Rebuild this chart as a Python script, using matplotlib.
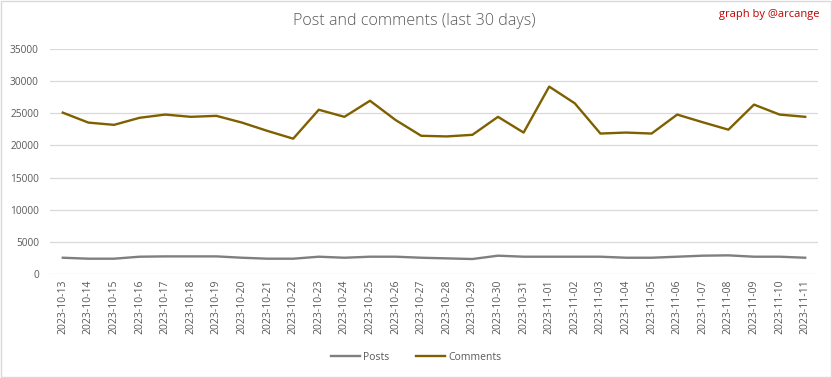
import matplotlib.pyplot as plt
from matplotlib.patches import Rectangle

dates = ['2023-10-13', '2023-10-14', '2023-10-15', '2023-10-16', '2023-10-17',
         '2023-10-18', '2023-10-19', '2023-10-20', '2023-10-21', '2023-10-22',
         '2023-10-23', '2023-10-24', '2023-10-25', '2023-10-26', '2023-10-27',
         '2023-10-28', '2023-10-29', '2023-10-30', '2023-10-31', '2023-11-01',
         '2023-11-02', '2023-11-03', '2023-11-04', '2023-11-05', '2023-11-06',
         '2023-11-07', '2023-11-08', '2023-11-09', '2023-11-10', '2023-11-11']

posts = [2530, 2380, 2380, 2690, 2740, 2740, 2740, 2530, 2380, 2380,
         2690, 2530, 2690, 2690, 2530, 2430, 2330, 2850, 2690, 2690,
         2690, 2690, 2530, 2530, 2690, 2850, 2900, 2690, 2690, 2530]

comments = [25100, 23550, 23200, 24300, 24800, 24450, 24600, 23550, 22250, 21050,
            25550, 24450, 26950, 23950, 21500, 21400, 21650, 24450, 22000, 29150,
            26550, 21850, 22000, 21850, 24800, 23600, 22450, 26350, 24800, 24450]

plt.rcParams['font.family'] = ['Open Sans', 'DejaVu Sans']

fig = plt.figure(figsize=(8.32, 3.78), dpi=100)
fig.patches.append(Rectangle((0.001, 0.002), 0.998, 0.996, transform=fig.transFigure,
                             fill=False, edgecolor='#D9D9D9', lw=1))

ax = fig.add_axes([50 / 832, 1 - 274 / 378, 768 / 832, 225 / 378])
x = range(len(dates))
ax.plot(x, posts, color='#7F7F7F', lw=1.7, label='Posts')
ax.plot(x, comments, color='#7F6000', lw=1.7, label='Comments')

ax.set_xlim(-0.5, len(dates) - 0.5)
ax.set_ylim(0, 35000)
ax.set_yticks(range(0, 35001, 5000))
ax.set_xticks(list(x))
ax.set_xticklabels(dates, rotation=90, fontsize=7.5, color='#595959')
ax.tick_params(axis='y', labelsize=7.3, labelcolor='#595959', length=0, pad=8)
ax.tick_params(axis='x', length=0, pad=4)
ax.grid(axis='y', color='#D9D9D9', lw=0.9)
ax.set_axisbelow(True)
for s in ax.spines.values():
    s.set_visible(False)

fig.text(0.498, 1 - 21 / 378, 'Post and comments (last 30 days)', ha='center', va='center',
         fontsize=11.6, color='#595959', fontweight='light')
fig.text(0.985, 1 - 15 / 378, 'graph by @arcange', ha='right', va='center',
         fontsize=8, color='#C00000')

fig.legend(loc='center', bbox_to_anchor=(0.5, 1 - 357 / 378), ncol=2, frameon=False,
           fontsize=7.5, labelcolor='#595959', handlelength=2.8, columnspacing=2.5,
           handletextpad=0.3)

fig.savefig('out.png', dpi=100)
